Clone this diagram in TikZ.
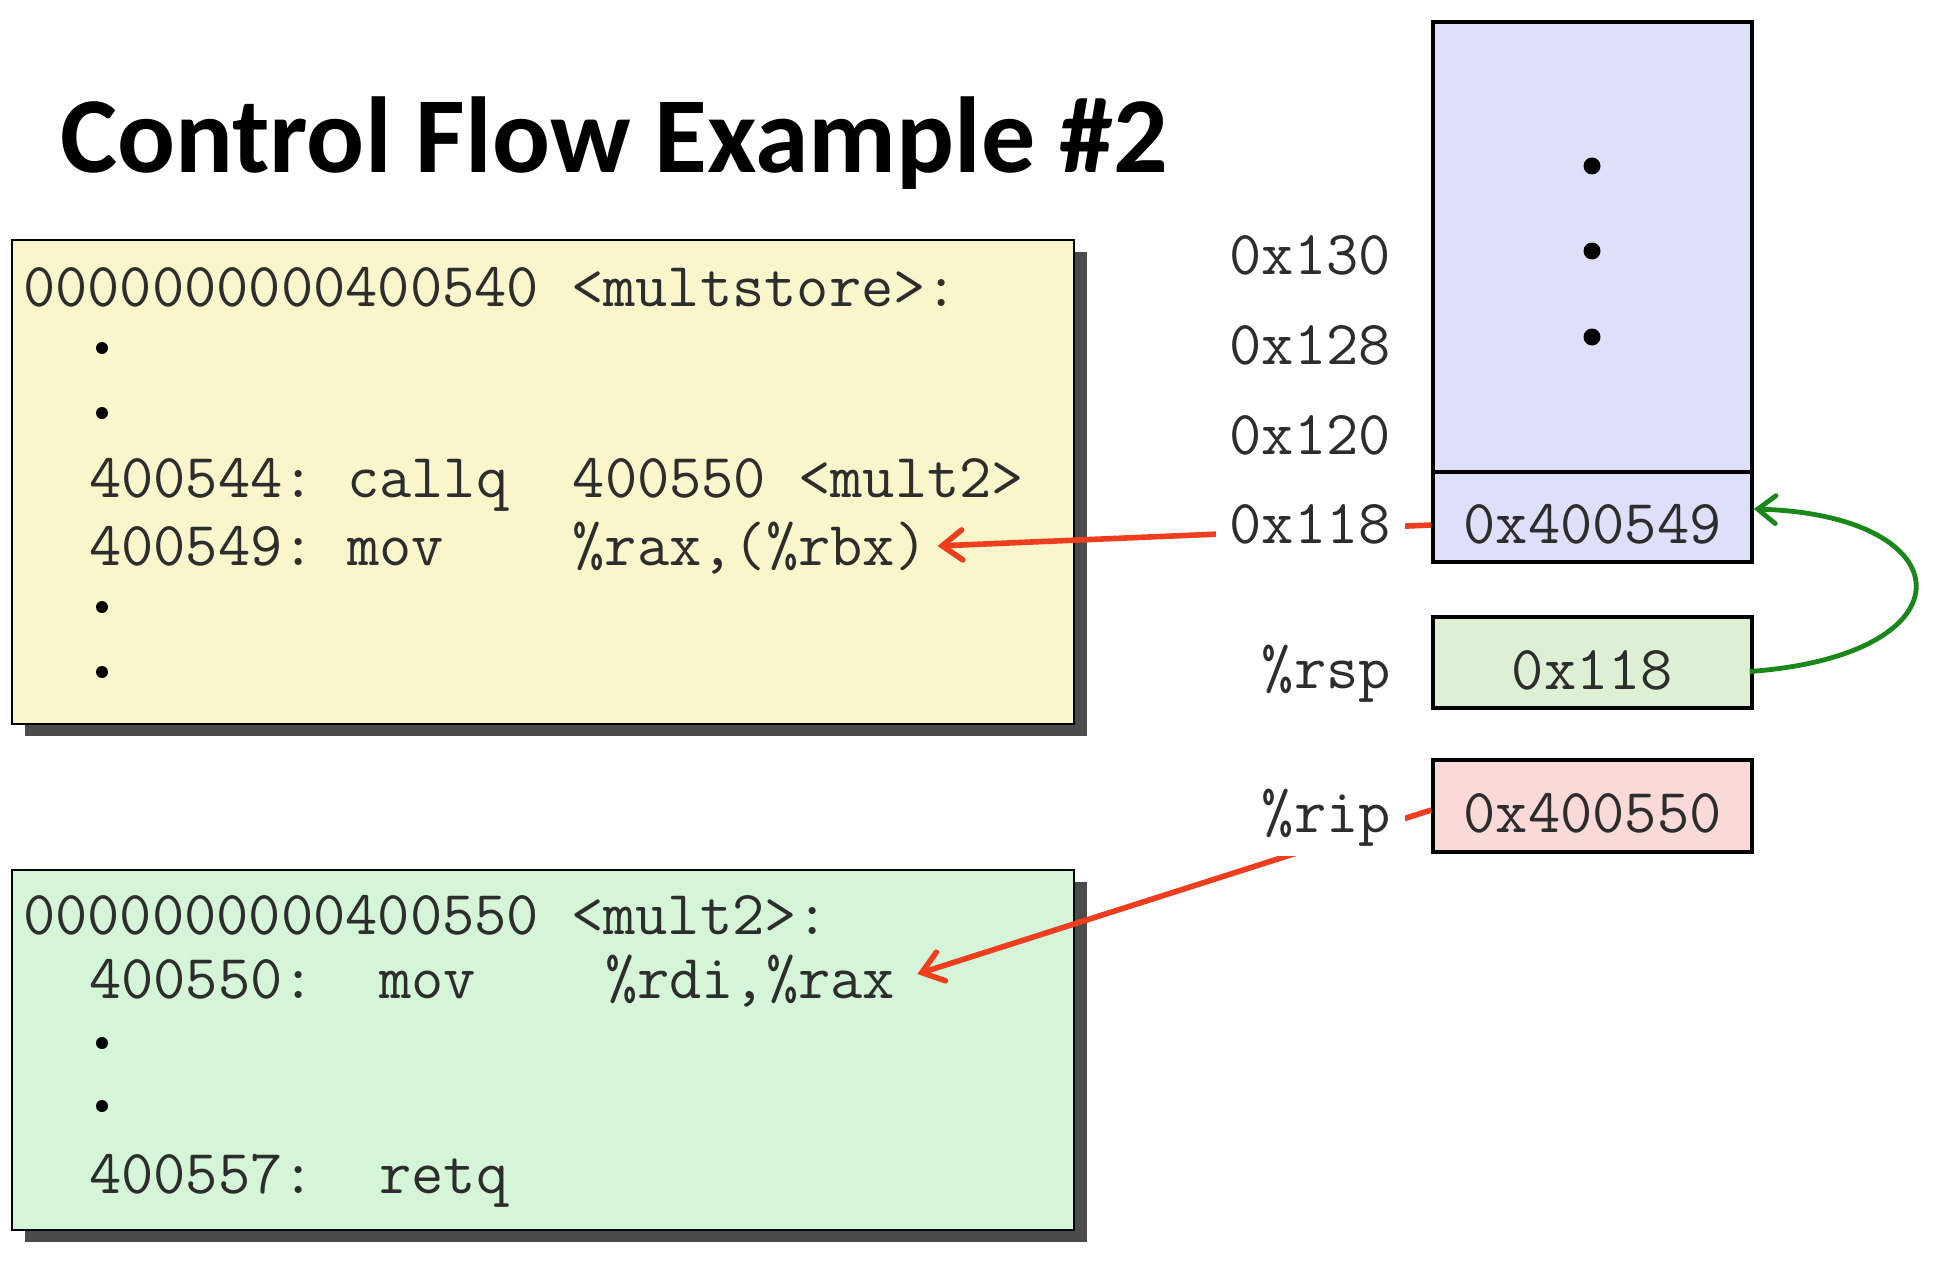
\documentclass[tikz,border=0pt]{standalone}
\usepackage{fontspec}
\newfontfamily\titlefont{Carlito}
\usetikzlibrary{arrows.meta,shadows}
\definecolor{codeyellow}{RGB}{250,246,204}
\definecolor{codegreen}{RGB}{212,245,216}
\definecolor{stackblue}{RGB}{222,224,250}
\definecolor{rspgreen}{RGB}{222,240,212}
\definecolor{rippink}{RGB}{250,218,216}
\definecolor{arrred}{RGB}{238,62,30}
\definecolor{arrgreen}{RGB}{25,135,25}
\definecolor{txt}{RGB}{45,45,45}
\definecolor{shadowgray}{RGB}{75,75,75}
\pgfdeclarelayer{front}
\pgfsetlayers{main,front}
\begin{document}
\begin{tikzpicture}[x=1pt,y=-1pt,
  mono/.style={font=\fontsize{62.6}{70}\selectfont\ttfamily, text=txt},
  code/.style={mono, inner sep=0pt, text height=38pt, text depth=0pt, anchor=west},
  lbl/.style={mono, anchor=base east, fill=white, inner xsep=14pt, inner ysep=10pt},
  codebox/.style={draw=black, line width=2pt, minimum width=1062pt,
    drop shadow={shadow xshift=13pt, shadow yshift=-12pt, fill=shadowgray, opacity=1}},
  memcell/.style={draw=black, line width=3.5pt, minimum width=319pt},
  valbox/.style={memcell, mono, text height=53pt, text depth=0pt, inner ysep=0pt},
  dotmark/.style={circle, fill=black, inner sep=0pt, minimum size=12pt},
  redarrow/.style={draw=arrred, line width=5.6pt, -{Straight Barb[length=20pt,width=30pt,line cap=round]}},
  greenarrow/.style={draw=arrgreen, line width=4.8pt, -{Straight Barb[length=18pt,width=28pt,line cap=round]}}]
\useasboundingbox[fill=white] (0,0) rectangle (1958,1260);

% title
\node[anchor=base west, inner sep=0pt, font=\titlefont\bfseries\fontsize{108}{116}\selectfont] (title) at (60,172) {Control Flow Example \#2};

% multstore code box
\node[codebox, fill=codeyellow, minimum height=484pt] (multstore) at (543,482) {};
\node[code] (ms0) at (23,287) {0000000000400540~<multstore>:};
\node[dotmark] (msd1) at (102,348) {};
\node[dotmark] (msd2) at (102,413) {};
\node[code] (ms1) at (89,478) {400544:~callq~~400550~<mult2>};
\node[code] (ms2) at (89,546) {400549:~mov~~~~\%rax,(\%rbx)};
\node[dotmark] (msd3) at (102,607) {};
\node[dotmark] (msd4) at (102,672) {};

% mult2 code box
\node[codebox, fill=codegreen, minimum height=360pt] (mult2) at (543,1050) {};
\node[code] (m20) at (23,915) {0000000000400550~<mult2>:};
\node[code] (m21) at (89,979) {400550:~~mov~~~~\%rdi,\%rax};
\node[dotmark] (m2d1) at (102,1043) {};
\node[dotmark] (m2d2) at (102,1106) {};
\node[code] (m22) at (89,1174) {400557:~~retq};

% stack
\node[memcell, fill=stackblue, minimum height=540pt] (stack) at (1592.5,292) {};
\node[dotmark, minimum size=17pt] (sd1) at (1592,166) {};
\node[dotmark, minimum size=17pt] (sd2) at (1592,251) {};
\node[dotmark, minimum size=17pt] (sd3) at (1592,337) {};
\node[valbox, fill=stackblue, minimum height=90pt] (cell) at (1592.5,517) {0x400549};
\node[valbox, fill=rspgreen, minimum height=91pt] (rsp) at (1592.5,662.5) {0x118};
\node[valbox, fill=rippink, minimum height=92pt] (rip) at (1592.5,806) {0x400550};

% connectors
\draw[redarrow] ([yshift=-8pt]cell.west) -- ([xshift=10pt]ms2.east);
\draw[redarrow] ([yshift=-4pt]rip.west) -- ([xshift=22pt,yshift=5pt]m21.east);
\draw[greenarrow] ([yshift=-9pt,xshift=-4pt]rsp.east) .. controls (1975,655) and (1965,515) .. ([yshift=8pt]cell.east);

% labels
\begin{pgfonlayer}{front}
\node[lbl] (a130) at (1405,274) {0x130};
\node[lbl] (a128) at (1405,364) {0x128};
\node[lbl] (a120) at (1405,454) {0x120};
\node[lbl] (a118) at (1405,543) {0x118};
\node[lbl] (lrsp) at (1405,688) {\%rsp};
\node[lbl] (lrip) at (1405,832) {\%rip};
\end{pgfonlayer}
\end{tikzpicture}
\end{document}
